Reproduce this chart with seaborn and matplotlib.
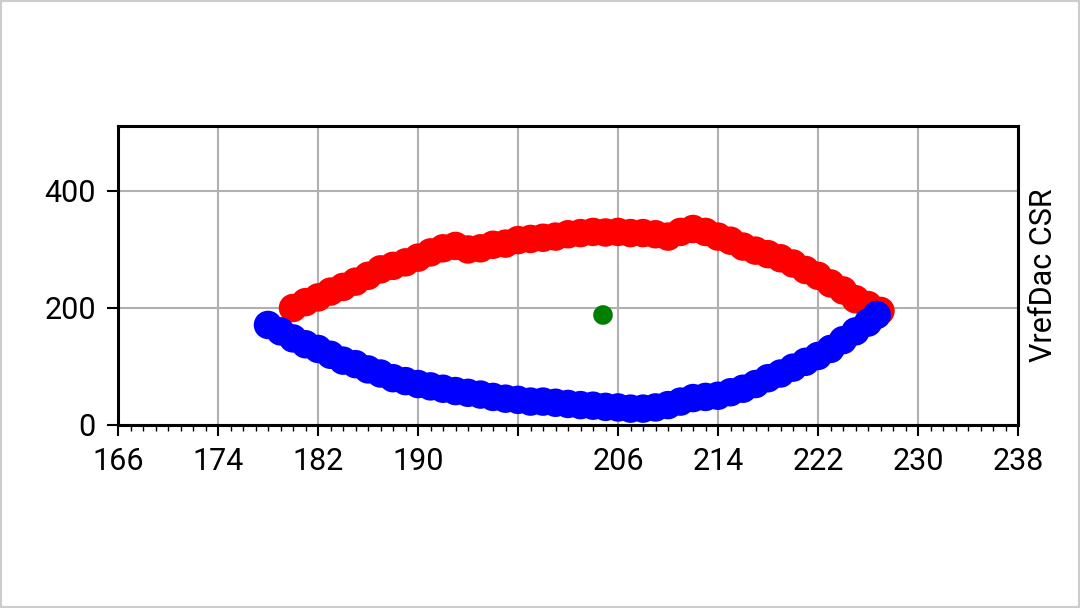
import matplotlib
matplotlib.use("Agg")
import matplotlib.pyplot as plt
import seaborn as sns
import numpy as np
from matplotlib.ticker import MultipleLocator

red_x = list(range(180, 228))
red_y = [200,210,218,228,236,245,255,266,272,278,286,295,302,306,300,302,308,310,316,318,
         320,322,326,328,330,329,330,328,328,326,322,330,335,330,322,315,305,298,292,285,
         276,265,255,242,230,215,205,195]
blue_x = list(range(178, 227)) + [226.7]
blue_y = [171,160,148,138,130,120,110,104,95,88,80,75,70,66,62,58,55,52,48,45,43,40,40,38,
          36,34,33,31,30,28,28,30,34,40,46,48,50,56,62,70,80,88,98,108,118,130,145,160,175,188]
green_x = [204.8]
green_y = [188]
xticks = [166,174,182,190,198,206,214,222,230,238]
xlabels = ["166","174","182","190","","206","214","222","230","238"]

sns.set_style("white")
plt.rcParams['font.family'] = ['Roboto', 'DejaVu Sans']
fig = plt.figure(figsize=(10.8, 6.08), dpi=100)
fig.patches.append(plt.Rectangle((0.001,0.001),0.998,0.998, transform=fig.transFigure,
                                 fill=False, edgecolor="#cccccc", lw=1.5))
ax = fig.add_axes([118/1080, 1-425/608, 900/1080, 299/608])
sns.scatterplot(x=red_x, y=red_y, color="red", s=420, edgecolor="none", ax=ax, zorder=3)
sns.scatterplot(x=blue_x, y=blue_y, color="blue", s=420, edgecolor="none", ax=ax, zorder=4)
sns.scatterplot(x=green_x, y=green_y, color="green", s=200, edgecolor="none", ax=ax, zorder=5)
ax.set_xlim(166, 238)
ax.set_ylim(0, 511)
ax.set_xticks(xticks)
ax.set_xticklabels(xlabels)
ax.xaxis.set_minor_locator(MultipleLocator(1))
ax.set_yticks([0, 200, 400])
ax.grid(True, which="major", color="#b0b0b0", lw=1.5)
ax.set_axisbelow(True)
for s in ax.spines.values():
    s.set_linewidth(2.2); s.set_color("black")
ax.tick_params(axis="both", which="both", left=True, bottom=True)
ax.tick_params(axis="both", which="major", labelsize=22, labelcolor="black", length=8, width=1.5,
               direction="out", color="black", pad=8)
ax.tick_params(axis="y", which="minor", left=False)
ax.tick_params(axis="x", which="minor", length=4, width=1, direction="out", color="black")
ax.yaxis.set_label_position("right")
ax.set_ylabel("VrefDac CSR", fontsize=22, color="black", labelpad=8)
fig.savefig("out.png", dpi=100)
